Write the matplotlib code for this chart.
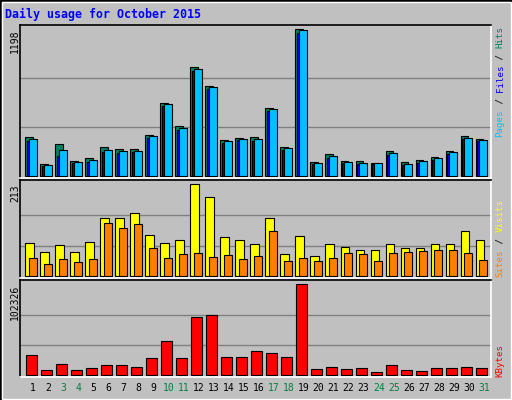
import matplotlib
matplotlib.use("Agg")
import matplotlib.pyplot as plt
from matplotlib.patches import Rectangle

days = list(range(1, 32))
hits = [318, 98, 261, 122, 147, 236, 220, 220, 334, 595, 408, 891, 734, 293, 310, 318,
        554, 236, 1198, 114, 179, 122, 122, 106, 204, 114, 130, 155, 204, 326, 302]
files = [302, 90, 212, 114, 130, 212, 204, 204, 326, 587, 391, 875, 726, 285, 302, 302,
         546, 228, 1190, 106, 163, 114, 106, 106, 187, 98, 122, 147, 196, 310, 293]
pages = [290, 84, 166, 105, 115, 200, 190, 195, 310, 570, 380, 860, 710, 275, 292, 290,
         530, 215, 1170, 98, 150, 105, 98, 100, 170, 90, 112, 135, 180, 300, 285]
sites = [76, 56, 72, 56, 79, 134, 134, 146, 95, 76, 85, 213, 183, 90, 83, 74,
         134, 51, 93, 46, 74, 67, 60, 60, 74, 65, 65, 74, 74, 104, 85]
visits = [42, 28, 39, 32, 39, 123, 111, 120, 65, 42, 51, 53, 44, 49, 39, 46,
          106, 35, 42, 35, 42, 53, 51, 35, 53, 56, 58, 60, 60, 53, 37]
kbytes = [22490, 5620, 12370, 5620, 7870, 11240, 11240, 9000, 19110, 38230, 19110, 65220,
          67460, 20240, 20240, 26990, 24740, 20240, 102326, 6750, 9000, 6750, 7870, 3370,
          11240, 5620, 4500, 7870, 7870, 9000, 7870]
weekend = [3, 4, 10, 11, 17, 18, 24, 25, 31]

W, H = 512, 400
fig = plt.figure(figsize=(W/100, H/100), dpi=100, facecolor="#c0c0c0")
fig.patches.append(Rectangle((0, 0), 1, 1, transform=fig.transFigure, fill=False,
                             edgecolor="black", lw=2))
fig.patches.append(Rectangle((1.5/W, 1.5/H), 1-3/W, 1-3/H, transform=fig.transFigure,
                             fill=False, edgecolor="white", lw=1))

def ax_at(top, bottom):
    ax = fig.add_axes([20/W, 1-bottom/H, 470.7/W, (bottom-top)/H])
    ax.set_facecolor("#c0c0c0")
    ax.set_xlim(0.13, 31.5)
    ax.set_xticks([]); ax.set_yticks([])
    for s in ["top", "left"]:
        ax.spines[s].set_color("black")
    for s in ["bottom", "right"]:
        ax.spines[s].set_color("white")
    for sp in ax.spines.values():
        sp.set_linewidth(1.2)
    return ax

mono = "DejaVu Sans Mono"
ek = dict(edgecolor="black", linewidth=0.8)
x = days

ax1 = ax_at(24.7, 178)
ax1.set_ylim(-14, 1235)
for g in [1198/3, 2*1198/3]:
    ax1.axhline(g, color="#808080", lw=1, zorder=0)
ax1.bar([d-0.51 for d in x], hits, width=0.49, align="edge", color="#008060", **ek)
ax1.bar([d-0.38 for d in x], pages, width=0.49, align="edge", color="#0000ff", **ek)
ax1.bar([d-0.25 for d in x], files, width=0.49, align="edge", color="#00c0ff", **ek)

ax2 = ax_at(180.3, 278.3)
ax2.set_ylim(-4.6, 222.3)
for g in [213/3, 2*213/3]:
    ax2.axhline(g, color="#808080", lw=1, zorder=0)
ax2.bar([d-0.51 for d in x], sites, width=0.55, align="edge", color="#ffff00", **ek)
ax2.bar([d-0.25 for d in x], visits, width=0.5, align="edge", color="#ff8000", **ek)

ax3 = ax_at(280.3, 377.3)
ax3.set_ylim(-2250, 106824)
for g in [102326/3, 2*102326/3]:
    ax3.axhline(g, color="#808080", lw=1, zorder=0)
ax3.bar([d-0.45 for d in x], kbytes, width=0.7, align="edge", color="#ff0000", **ek)

def fx(px): return px/W
def fy(py): return 1-py/H

fig.text(fx(5), fy(14), "Daily usage for October 2015", family=mono, weight="bold",
         fontsize=8.4, color="#0000ff", va="center", ha="left")

for lbl, top in [("1198", 29.3), ("213", 184.3), ("102326", 284.3)]:
    fig.text(fx(15), fy(top), lbl, family=mono, fontsize=7, rotation=90,
             rotation_mode="anchor", ha="right", va="center", color="black")

def rlabel(parts, start):
    y = start
    cw = 5.55
    for txt, col in parts:
        fig.text(fx(500), fy(y), txt, family=mono, fontsize=6.6, rotation=90,
                 rotation_mode="anchor", ha="left", va="center", color=col)
        y -= cw*len(txt)

rlabel([("Pages", "#00c0ff"), (" / ", "black"), ("Files", "#0000ff"), (" / ", "black"),
        ("Hits", "#008060")], 136.7)
rlabel([("Sites", "#ff8000"), (" / ", "black"), ("Visits", "#ffff00")], 276.7)
rlabel([("KBytes", "#ff0000")], 376.7)

for d in days:
    px = 33 + (d-1)*15.03
    fig.text(fx(px), fy(388), str(d), family=mono, fontsize=7, ha="center", va="center",
             color="#008040" if d in weekend else "black")

fig.savefig("out.png", dpi=100, facecolor=fig.get_facecolor())
